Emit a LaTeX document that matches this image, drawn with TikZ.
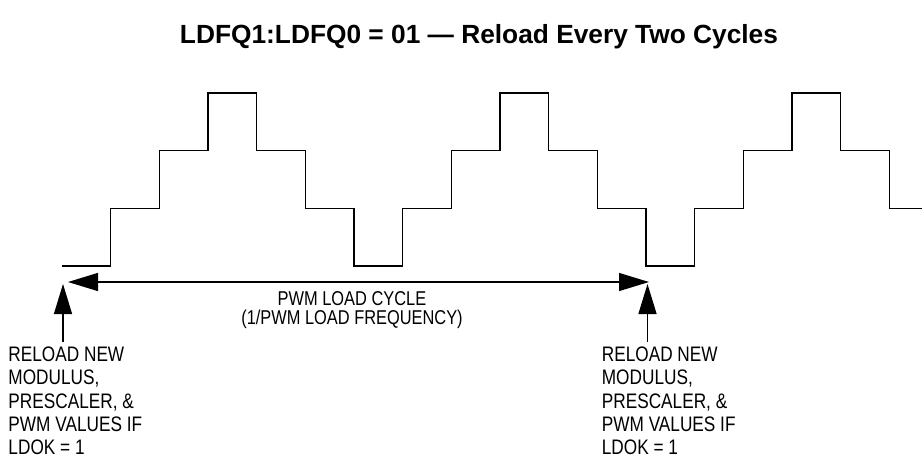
\documentclass[tikz,border=0pt]{standalone}
\usepackage{fontspec}
\setmainfont{Liberation Sans}
\newfontfamily\narrowfont[FakeStretch=0.82]{Liberation Sans}
\usetikzlibrary{arrows.meta}
\begin{document}
\begin{tikzpicture}[x=1pt,y=-1pt,
  wave/.style={line width=1.2pt, line join=miter},
  dimline/.style={line width=1.3pt},
  bigtip/.tip={Triangle[length=30pt,width=18pt]},
  label/.style={inner sep=0pt, align=left, anchor=north west,
    font=\narrowfont\fontsize{21}{23.3}\selectfont},
  midlabel/.style={inner sep=0pt, align=center, anchor=north,
    font=\narrowfont\fontsize{20}{18.5}\selectfont},
  titlestyle/.style={inner sep=0pt, anchor=base,
    font=\bfseries\fontsize{26.3}{26.3}\selectfont}]
\useasboundingbox (0,0) rectangle (922,469);

% title
\node[titlestyle] (title) at (479,43) {LDFQ1:LDFQ0 = 01 — Reload Every Two Cycles};

% stepped waveform
\draw[wave] (62,266) -| (110.67,208.3) -| (159.33,150.7) -| (208,93)
  -| (256.67,150.7) -| (305.33,208.3) -| (354,266)
  -| (402.67,208.3) -| (451.33,150.7) -| (500,93)
  -| (548.67,150.7) -| (597.33,208.3) -| (646,266)
  -| (694.67,208.3) -| (743.33,150.7) -| (792,93)
  -| (840.67,150.7) -| (889.33,208.3) -- (922,208.3);

% load cycle dimension
\coordinate (hL) at (68,282);
\coordinate (hR) at (649,282);
\draw[dimline, {bigtip}-{bigtip}] (hL) -- (hR);
\node[midlabel] (cycle) at (352,291.5) {PWM LOAD CYCLE\\(1/PWM LOAD FREQUENCY)};

% reload markers
\coordinate (tipL) at (63,284);
\coordinate (footL) at (63,342);
\coordinate (tipR) at (647.5,284);
\coordinate (footR) at (647.5,342);
\draw[dimline, -{bigtip}] (footL) -- (tipL);
\draw[dimline, -{bigtip}] (footR) -- (tipR);

\node[label] (relL) at (8.3,346.7) {RELOAD NEW\\MODULUS,\\PRESCALER, \&\\PWM VALUES IF\\LDOK = 1};
\node[label] (relR) at (601.7,346.7) {RELOAD NEW\\MODULUS,\\PRESCALER, \&\\PWM VALUES IF\\LDOK = 1};
\end{tikzpicture}
\end{document}
